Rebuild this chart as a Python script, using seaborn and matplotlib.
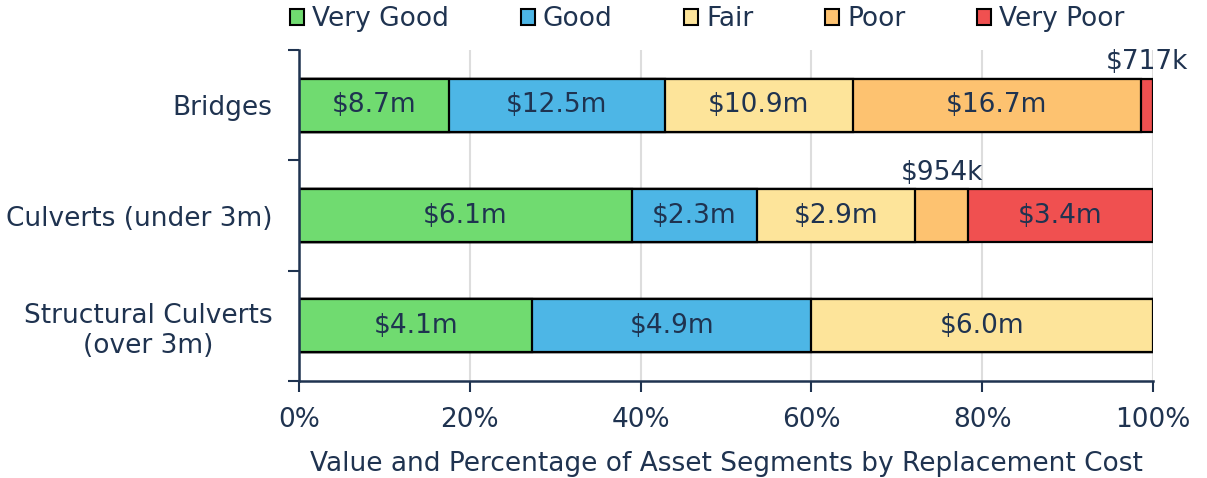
import seaborn as sns
import pandas as pd
import matplotlib.pyplot as plt
from matplotlib.patches import Patch

# replacement cost in $ millions
assets = ["Bridges", "Culverts (under 3m)", "Structural Culverts\n(over 3m)"]
conditions = ["Very Good", "Good", "Fair", "Poor", "Very Poor"]
very_good = [8.7, 6.1, 4.1]
good = [12.5, 2.3, 4.9]
fair = [10.9, 2.9, 6.0]
poor = [16.7, 0.954, 0.0]
very_poor = [0.717, 3.4, 0.0]
colors = ["#70db70", "#4db6e6", "#fde49a", "#fdc270", "#f05050"]

navy = "#1f3350"

sns.set_style("white")
plt.rcParams["font.family"] = ["DejaVu Sans"]
plt.rcParams["text.color"] = navy
plt.rcParams["xtick.color"] = navy
plt.rcParams["ytick.color"] = navy
plt.rcParams["axes.labelcolor"] = navy

rows = []
for cond, vals in zip(conditions, [very_good, good, fair, poor, very_poor]):
    for a, v in zip(assets, vals):
        rows.append({"asset": a, "condition": cond, "value": v})
df = pd.DataFrame(rows)
df["total"] = df.groupby("asset")["value"].transform("sum")
df["pct"] = df["value"] / df["total"] * 100
df["cum"] = df.groupby("asset")["pct"].cumsum()

fig = plt.figure(figsize=(12.07, 4.78), dpi=100)
ax = fig.add_axes([0.2477, 0.2029, 0.9553 - 0.2477, 0.8954 - 0.2029])

# stacked look: draw cumulative bars from the longest down
for cond, col in reversed(list(zip(conditions, colors))):
    sub = df[df["condition"] == cond]
    sns.barplot(data=sub, x="cum", y="asset", order=assets, orient="h",
                color=col, width=0.48, edgecolor="black", linewidth=1.6,
                saturation=1, ax=ax)

for _, r in df.iterrows():
    if r["value"] <= 0:
        continue
    v = r["value"]
    txt = f"${v:.1f}m" if v >= 1 else f"${v * 1000:.0f}k"
    yi = assets.index(r["asset"])
    xc = r["cum"] - r["pct"] / 2
    if r["pct"] < 8:
        ax.text(xc, yi - 0.27, txt, ha="center", va="bottom", fontsize=19, color=navy)
    else:
        ax.text(xc, yi, txt, ha="center", va="center", fontsize=19, color=navy)

ax.set_xlim(0, 100)
ax.set_ylim(2.5, -0.5)
ax.set_xticks(range(0, 101, 20))
ax.set_xticklabels([f"{t}%" for t in range(0, 101, 20)])
ax.set_xlabel("Value and Percentage of Asset Segments by Replacement Cost", fontsize=19, labelpad=13)
ax.set_ylabel("")
ax.set_axisbelow(True)
ax.grid(axis="x", color="#dddddd", linewidth=1.5)
ax.grid(axis="y", visible=False)

ax.set_yticks([-0.5, 0.5, 1.5, 2.5], minor=True)
ax.tick_params(axis="y", which="major", left=True, length=0, pad=19, labelsize=19)
ax.tick_params(axis="y", which="minor", left=True, length=8, width=1.5, color=navy,
               direction="out")
ax.tick_params(axis="x", which="major", bottom=True, length=8, width=1.5, color=navy,
               direction="out", pad=11, labelsize=19)
for lab in ax.get_yticklabels():
    lab.set_multialignment("center")

for s in ["top", "right"]:
    ax.spines[s].set_visible(False)
for s in ["left", "bottom"]:
    ax.spines[s].set_color(navy)
    ax.spines[s].set_linewidth(1.8)

handles = [Patch(facecolor=c, edgecolor="black", linewidth=1.5, label=n)
           for n, c in zip(conditions, colors)]
fig.legend(handles=handles, loc="center", bbox_to_anchor=(0.586, 0.96), ncol=5,
           frameon=False, handlelength=0.55, handleheight=0.55, handletextpad=0.3,
           columnspacing=2.7, fontsize=19, borderpad=0)

fig.savefig("out.png", dpi=100)
